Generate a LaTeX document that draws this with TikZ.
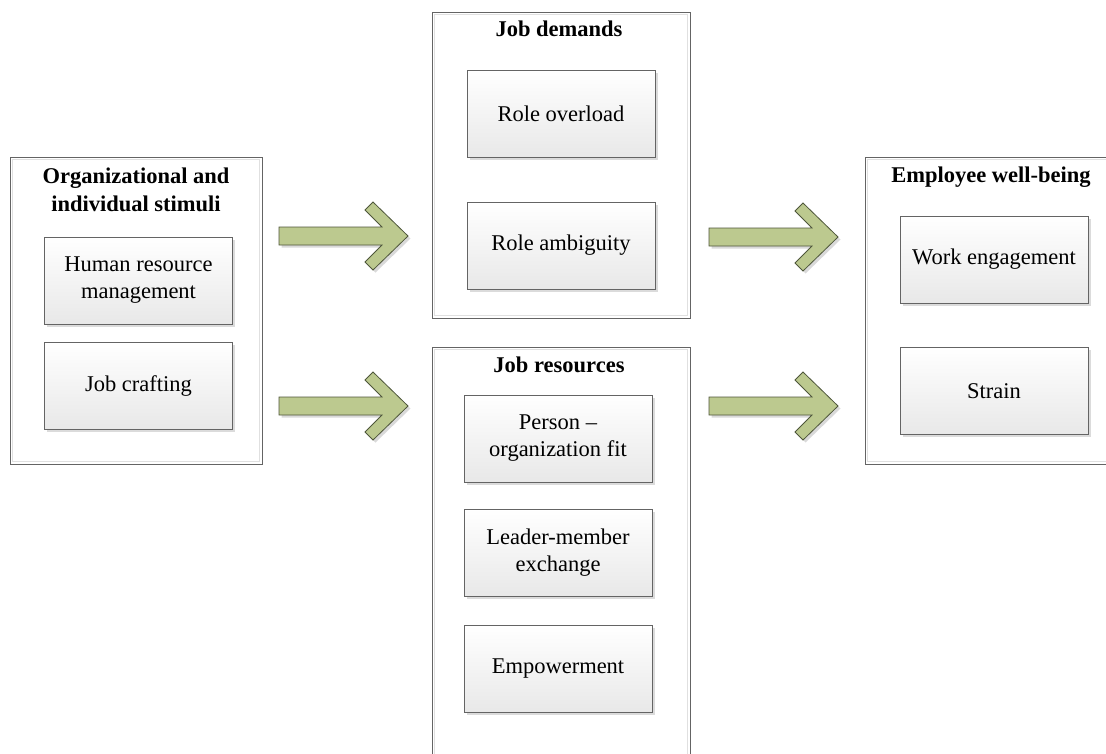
\documentclass[tikz,border=0pt]{standalone}
\usepackage{fontspec}
\setmainfont{Liberation Serif}
\usetikzlibrary{shadows}
\definecolor{greenarrow}{RGB}{188,201,143}
\definecolor{arrowline}{RGB}{78,86,58}
\definecolor{boxline}{RGB}{100,100,100}

\begin{document}
\begin{tikzpicture}[
    x=1pt, y=-1pt,
    every node/.style={font=\fontsize{22.5}{27}\selectfont},
    frame/.style={draw=boxline, line width=1pt, fill=white, inner sep=0pt},
    inbox/.style={draw=boxline, line width=.9pt, top color=white,
        bottom color=black!9, minimum width=188pt, minimum height=87pt,
        align=center, inner sep=0pt,
        drop shadow={shadow xshift=2.5pt,shadow yshift=-2.5pt,
            fill=black!14,opacity=1}},
    heading/.style={font=\fontsize{22.5}{28}\selectfont\bfseries, align=center}]
    \useasboundingbox (0,0) rectangle (1106,753);
    \clip (0,0) rectangle (1106,753);

    % Marcos exteriores.
    \node[frame, minimum width=252pt, minimum height=307pt] (stimuli) at (136,310.5) {};
    \node[frame, minimum width=258pt, minimum height=306pt] (demands) at (561,165) {};
    \node[frame, minimum width=258pt, minimum height=443pt] (resources) at (561,568.5) {};
    \node[frame, minimum width=258pt, minimum height=307pt] (wellbeing) at (994,310.5) {};
    \foreach \f in {stimuli,demands,resources,wellbeing} {
        \draw[black!12] ([shift={(3pt,-3pt)}]\f.north west)
            rectangle ([shift={(-3pt,3pt)}]\f.south east);
    }

    \node[heading] (t-stimuli) at (136,190) {Organizational and\\individual stimuli};
    \node[heading] (t-demands) at (559,29) {Job demands};
    \node[heading] (t-resources) at (559,365) {Job resources};
    \node[heading] (t-wellbeing) at (991,177) {Employee well-being};

    % Cajas interiores.
    \node[inbox] (hrm) at (138.5,280.5) {Human resource\\management};
    \node[inbox] (crafting) at (138.5,385.5) {Job crafting};
    \node[inbox] (overload) at (561,113.5) {Role overload};
    \node[inbox] (ambiguity) at (561,245.5) {Role ambiguity};
    \node[inbox] (pofit) at (558,438.5) {Person \textendash\\organization fit};
    \node[inbox] (lmx) at (558,552.5) {Leader-member\\exchange};
    \node[inbox] (empower) at (558,669) {Empowerment};
    \node[inbox] (engage) at (994,259.5) {Work engagement};
    \node[inbox] (strain) at (994,391) {Strain};

    % Flechas de bloque entre columnas.
    \foreach \px/\py in {408/236,408/406,838/237,838/406} {
        \begin{scope}[shift={(\px,\py)}]
            \fill[black!15] (2.5,2.5) -- (-32.5,-31.5) -- (-40.5,-23.5) -- (-23.5,-6.5)
                -- (-126.5,-6.5) -- (-126.5,11.5) -- (-23.5,11.5) -- (-40.5,28.5)
                -- (-32.5,36.5) -- cycle;
            \draw[arrowline, fill=greenarrow, line width=.8pt]
                (0,0) -- (-35,-34) -- (-43,-26) -- (-26,-9) -- (-129,-9)
                -- (-129,9) -- (-26,9) -- (-43,26) -- (-35,34) -- cycle;
        \end{scope}
    }
\end{tikzpicture}
\end{document}
